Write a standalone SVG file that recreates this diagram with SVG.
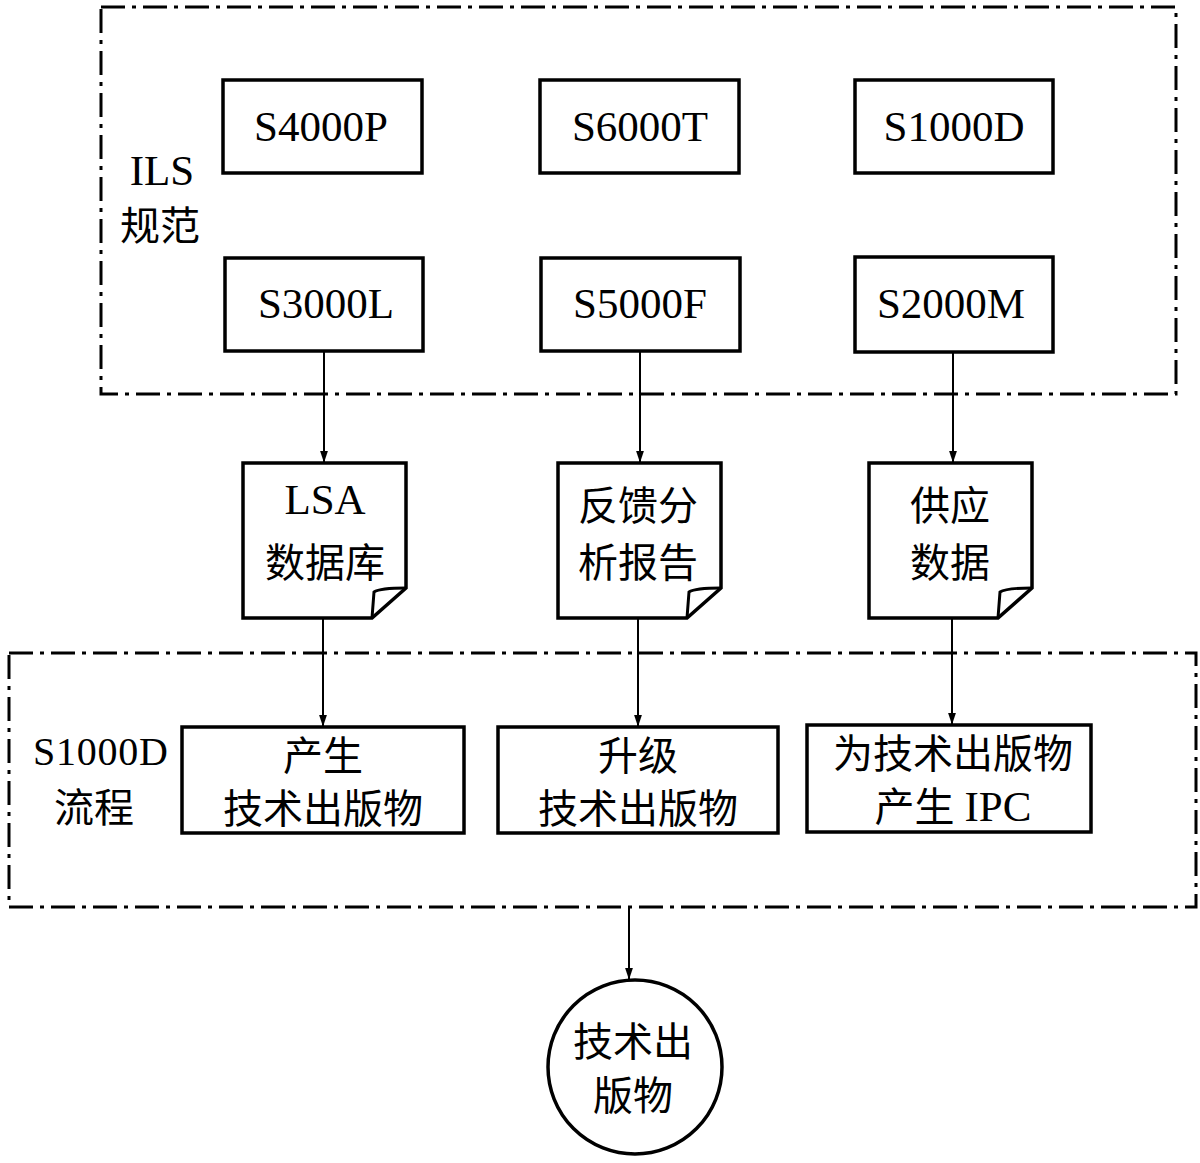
<svg xmlns="http://www.w3.org/2000/svg" width="1200" height="1163" viewBox="0 0 1200 1163">
<defs>
<marker id="arr" markerWidth="12" markerHeight="18" refX="17" refY="6" orient="auto" markerUnits="userSpaceOnUse" viewBox="0 0 18 12">
<path d="M0,0 L18,6 L0,12 Z" fill="#000"/>
</marker>
<style>
.grp{fill:none;stroke:#000;stroke-width:3;stroke-dasharray:24 7 4 7}
.box{fill:#fff;stroke:#000;stroke-width:3.5}
.t{font-family:"Liberation Serif","Noto Sans CJK SC",serif;font-size:40px;fill:#000;text-anchor:middle}
.tl{font-family:"Liberation Serif","Noto Sans CJK SC",serif;font-size:40px;fill:#000}
.l{font-size:43px}
.c{stroke:#000;stroke-width:2;fill:none;marker-end:url(#arr)}
</style>
</defs>
<rect width="1200" height="1163" fill="#fff"/>
<g id="ils-group">
<rect class="grp" x="101" y="7" width="1075" height="387"/>
<text class="t l" x="162" y="185">ILS</text>
<text class="t" x="160" y="240">规范</text>
</g>
<g id="s1000d-group">
<rect class="grp" x="9" y="653" width="1187" height="254"/>
<text class="tl" x="33" y="765" font-size="41" textLength="135">S1000D</text>
<text class="tl" x="54" y="822">流程</text>
</g>
<g id="connectors">
<line class="c" x1="324" y1="352" x2="324" y2="462"/>
<line class="c" x1="640" y1="352" x2="640" y2="462"/>
<line class="c" x1="953" y1="352" x2="953" y2="462"/>
<line class="c" x1="323" y1="618" x2="323" y2="726"/>
<line class="c" x1="638" y1="618" x2="638" y2="726"/>
<line class="c" x1="952" y1="618" x2="952" y2="724"/>
<line class="c" x1="629" y1="907" x2="629" y2="979"/>
</g>
<g id="S4000P"><rect class="box" x="223" y="80" width="199" height="93"/><text class="t l" x="321" y="141">S4000P</text></g>
<g id="S6000T"><rect class="box" x="540" y="80" width="199" height="93"/><text class="t l" x="640" y="141">S6000T</text></g>
<g id="S1000D"><rect class="box" x="855" y="80" width="198" height="93"/><text class="t l" x="954" y="141">S1000D</text></g>
<g id="S3000L"><rect class="box" x="225" y="258" width="198" height="93"/><text class="t l" x="326" y="318">S3000L</text></g>
<g id="S5000F"><rect class="box" x="541" y="258" width="199" height="93"/><text class="t l" x="640" y="318">S5000F</text></g>
<g id="S2000M"><rect class="box" x="855" y="257" width="198" height="95"/><text class="t l" x="951" y="318">S2000M</text></g>
<g id="doc-lsa">
<path class="box" d="M243,463 H406 V588 L372,618 H243 Z"/>
<path d="M406,588 Q380,588 374,592 L372,618" fill="none" stroke="#000" stroke-width="3"/>
<text class="t l" x="325" y="514">LSA</text>
<text class="t" x="325" y="577">数据库</text>
</g>
<g id="doc-feedback">
<path class="box" d="M558,463 H721 V588 L687,618 H558 Z"/>
<path d="M721,588 Q695,588 689,592 L687,618" fill="none" stroke="#000" stroke-width="3"/>
<text class="t" x="638" y="520">反馈分</text>
<text class="t" x="638" y="577">析报告</text>
</g>
<g id="doc-supply">
<path class="box" d="M869,463 H1032 V588 L998,618 H869 Z"/>
<path d="M1032,588 Q1006,588 1000,592 L998,618" fill="none" stroke="#000" stroke-width="3"/>
<text class="t" x="950" y="520">供应</text>
<text class="t" x="950" y="577">数据</text>
</g>
<g id="proc-generate"><rect class="box" x="182" y="727" width="282" height="106"/><text class="t" x="323" y="770">产生</text><text class="t" x="323" y="823">技术出版物</text></g>
<g id="proc-upgrade"><rect class="box" x="498" y="727" width="280" height="106"/><text class="t" x="638" y="770">升级</text><text class="t" x="638" y="823">技术出版物</text></g>
<g id="proc-ipc"><rect class="box" x="807" y="725" width="284" height="107"/><text class="t" x="953" y="768">为技术出版物</text><text class="t" x="953" y="821">产生 <tspan class="l">IPC</tspan></text></g>
<g id="output"><circle cx="635" cy="1067" r="87" fill="#fff" stroke="#000" stroke-width="3.5"/><text class="t" x="633" y="1056">技术出</text><text class="t" x="633" y="1110">版物</text></g>
</svg>
